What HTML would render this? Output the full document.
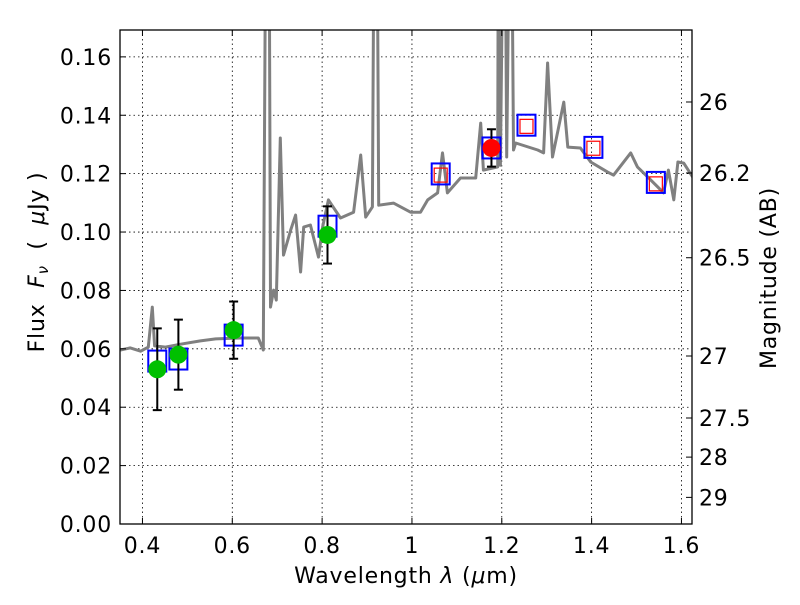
<!DOCTYPE html>
<html><head><meta charset="utf-8"><style>
body{margin:0;background:#fff;}
svg text{font-family:"DejaVu Sans","Liberation Sans",sans-serif;fill:#000;}
</style></head><body>
<svg id="chart" width="800" height="600" viewBox="0 0 800 600" xmlns="http://www.w3.org/2000/svg">
<defs><clipPath id="clip"><rect x="120" y="30" width="572" height="494"/></clipPath></defs>
<rect x="0" y="0" width="800" height="600" fill="#fff"/>
<g id="grid"></g>
<g id="spec" clip-path="url(#clip)"></g>
<g id="marks" clip-path="url(#clip)"></g>
<rect x="120" y="30" width="572" height="494" fill="none" stroke="#000" stroke-width="1.3"/>
<g id="axes"></g>
<text x="406" y="583" font-size="22" letter-spacing="0.8" text-anchor="middle">Wavelength  <tspan font-style="italic">λ</tspan> (<tspan font-style="italic">μ</tspan>m)</text>
<text transform="translate(44,262) rotate(-90)" font-size="22" letter-spacing="0.8" text-anchor="middle" xml:space="preserve">Flux  <tspan font-style="italic">F<tspan font-size="15" dy="4">ν</tspan></tspan><tspan dy="-4">  (  </tspan><tspan font-style="italic">μ</tspan>Jy )</text>
<text transform="translate(776,278) rotate(-90)" font-size="22" letter-spacing="0.8" text-anchor="middle">Magnitude (AB)</text>
</svg>
<script>
const specLam=[0.351,0.373,0.396,0.413,0.422,0.427,0.451,0.485,0.529,0.563,0.618,0.658,0.669,0.676,0.681,0.685,0.692,0.698,0.707,0.714,0.730,0.741,0.752,0.759,0.774,0.792,0.801,0.814,0.841,0.870,0.886,0.897,0.912,0.917,0.921,0.926,0.959,0.997,1.019,1.035,1.057,1.068,1.079,1.108,1.142,1.153,1.159,1.191,1.193,1.197,1.206,1.211,1.220,1.226,1.231,1.280,1.293,1.302,1.313,1.338,1.347,1.375,1.398,1.436,1.449,1.487,1.502,1.525,1.554,1.560,1.571,1.583,1.592,1.605,1.625];
const specFlux=[0.0596,0.0603,0.0592,0.0606,0.0743,0.0610,0.0606,0.0616,0.0627,0.0634,0.0637,0.0637,0.0596,0.25,0.25,0.0743,0.0801,0.0767,0.1322,0.0921,0.1007,0.1058,0.0863,0.1017,0.1024,0.0914,0.1017,0.1110,0.1048,0.1068,0.1264,0.1051,0.1086,0.25,0.25,0.1092,0.1099,0.1068,0.1068,0.1110,0.1134,0.1271,0.1134,0.1185,0.1185,0.1373,0.1212,0.1223,0.25,0.1229,0.25,0.1257,0.25,0.1281,0.1305,0.1281,0.1271,0.1579,0.1257,0.1445,0.1291,0.1288,0.1240,0.1205,0.1195,0.1271,0.1223,0.1188,0.1144,0.1134,0.1212,0.1110,0.1240,0.1236,0.1188];
const obsLam=[0.433,0.480,0.603,0.812];
const obsFlux=[0.053,0.058,0.0664,0.099];
const obsErr=[0.014,0.012,0.0098,0.0098];
const nirLam=[1.177];
const nirFlux=[0.1288];
const nirErr=[0.0064];
const modelLam=[0.433,0.480,0.603,0.812,1.064,1.177,1.255,1.404,1.543];
const modelFlux=[0.0558,0.0565,0.0647,0.102,0.1199,0.1288,0.1366,0.129,0.117];
const upperLam=[1.064,1.255,1.404,1.543];
const upperFlux=[0.1195,0.1362,0.1287,0.1165];
const xTicks=[0.4,0.6,0.8,1.0,1.2,1.4,1.6];
const xTickLabels=["0.4","0.6","0.8","1","1.2","1.4","1.6"];
const yTicks=[0,0.02,0.04,0.06,0.08,0.10,0.12,0.14,0.16];
const yTickLabels=["0.00","0.02","0.04","0.06","0.08","0.10","0.12","0.14","0.16"];
const magTicks=[26,26.2,26.5,27,27.5,28,29];
const magTickLabels=["26","26.2","26.5","27","27.5","28","29"];

const NS="http://www.w3.org/2000/svg";
const L=120,R=692,T=30,B=524,X0=0.35,X1=1.6235,Y0=0,Y1=0.1692;
function sx(v){return L+(v-X0)/(X1-X0)*(R-L);}
function sy(v){return B-(v-Y0)/(Y1-Y0)*(B-T);}
function mk(tag,attrs,parent){const e=document.createElementNS(NS,tag);for(const k in attrs)e.setAttribute(k,attrs[k]);parent.appendChild(e);return e;}
const grid=document.getElementById('grid'),axes=document.getElementById('axes'),spec=document.getElementById('spec'),marks=document.getElementById('marks');

xTicks.forEach((t,i)=>{const x=sx(t);
 const g=mk('line',{x1:x,x2:x,y1:T,y2:B,stroke:'#000','stroke-width':0.8,'stroke-dasharray':'1.5,3'},grid);
 
 
 mk('line',{x1:x,x2:x,y1:B,y2:B-6,stroke:'#000'},axes);
 mk('line',{x1:x,x2:x,y1:T,y2:T+6,stroke:'#000'},axes);
 const tx=mk('text',{x:x,y:B+29,'font-size':22,'letter-spacing':0.8,'text-anchor':'middle'},axes);tx.textContent=xTickLabels[i];
 
 
});
yTicks.forEach((t,i)=>{const y=sy(t);
 if(i>0){const g=mk('line',{x1:L,x2:R,y1:y,y2:y,stroke:'#000','stroke-width':0.8,'stroke-dasharray':'1.5,3'},grid);
 
 }
 mk('line',{x1:L,x2:L+6,y1:y,y2:y,stroke:'#000'},axes);
 const tx=mk('text',{x:L-8,y:y+8,'font-size':22,'letter-spacing':0.8,'text-anchor':'end'},axes);tx.textContent=yTickLabels[i];
 
 
});
magTicks.forEach((m,i)=>{const f=Math.pow(10,(23.9-m)/2.5);const y=sy(f);
 mk('line',{x1:R,x2:R-6,y1:y,y2:y,stroke:'#000'},axes);
 const tx=mk('text',{x:R+7,y:y+8,'font-size':22,'letter-spacing':0.8},axes);tx.textContent=magTickLabels[i];
 
 
});

const pts=specLam.map((l,i)=>sx(l).toFixed(1)+','+sy(specFlux[i]).toFixed(1)).join(' ');
const pl=mk('polyline',{points:pts,fill:'none',stroke:'#808080','stroke-width':3,'stroke-linejoin':'round'},spec);



modelLam.forEach((l,i)=>{const r=mk('rect',{x:sx(l)-9,y:sy(modelFlux[i])-10.5,width:18,height:21,fill:'none',stroke:'#0000ff','stroke-width':2},marks);
 
 });
upperLam.forEach((l,i)=>{const r=mk('rect',{x:sx(l)-6.5,y:sy(upperFlux[i])-7,width:13,height:14,fill:'none',stroke:'#ff0000','stroke-width':1.2},marks);
 
 });
function err(l,f,e,color,name){const x=sx(l);
 const g=mk('g',{},marks);
 
 
 mk('line',{x1:x,x2:x,y1:sy(f-e),y2:sy(f+e),stroke:'#000','stroke-width':2},g);
 mk('line',{x1:x-4.5,x2:x+4.5,y1:sy(f-e),y2:sy(f-e),stroke:'#000','stroke-width':2},g);
 mk('line',{x1:x-4.5,x2:x+4.5,y1:sy(f+e),y2:sy(f+e),stroke:'#000','stroke-width':2},g);
 const c=mk('circle',{cx:x,cy:sy(f),r:9,fill:color},marks);
 
 
}
obsLam.forEach((l,i)=>err(l,obsFlux[i],obsErr[i],'#00c000','optical'));
nirLam.forEach((l,i)=>err(l,nirFlux[i],nirErr[i],'#ff0000','nir'));
</script>
</body></html>
